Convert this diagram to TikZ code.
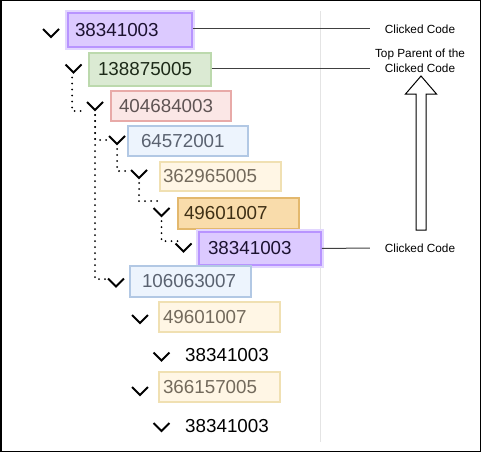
\documentclass[tikz,border=0pt]{standalone}
\usepackage{fontspec}
\setmainfont{Liberation Sans}
\usetikzlibrary{calc}
\definecolor{pfill}{HTML}{DCCAFF}
\definecolor{pdraw}{HTML}{B894FF}
\definecolor{pglow}{HTML}{E2D6FF}
\definecolor{ptext}{HTML}{1C1230}
\definecolor{gfill}{HTML}{DBEAD3}
\definecolor{gdraw}{HTML}{BCD9AD}
\definecolor{gtext}{HTML}{1D2A18}
\definecolor{rfill}{HTML}{FBE7E6}
\definecolor{rdraw}{HTML}{E8AAA8}
\definecolor{rtext}{HTML}{5F5454}
\definecolor{bfill}{HTML}{EDF4FD}
\definecolor{bdraw}{HTML}{B2C8E4}
\definecolor{btext}{HTML}{5A6270}
\definecolor{yfill}{HTML}{FFF6E5}
\definecolor{ydraw}{HTML}{F0E0B2}
\definecolor{ytext}{HTML}{736A5C}
\definecolor{ofill}{HTML}{F9DCAB}
\definecolor{odraw}{HTML}{E3B86D}
\definecolor{otext}{HTML}{3E2F15}
\definecolor{sepline}{HTML}{E4E4E4}
\newcommand\lbx[3]{\hbox to #1pt{\hskip #2pt\relax #3\hfil}}
\begin{document}
\begin{tikzpicture}[x=1pt,y=-1pt,
  box/.style={inner sep=0pt, line width=1.2pt, font=\fontsize{18.8}{20}\selectfont},
  pbox/.style={box, fill=pfill, draw=pdraw, text=ptext, line width=1.5pt, preaction={draw=pglow, line width=5.5pt}},
  gbox/.style={box, fill=gfill, draw=gdraw, text=gtext},
  rbox/.style={box, fill=rfill, draw=rdraw, text=rtext},
  bbox/.style={box, fill=bfill, draw=bdraw, text=btext},
  ybox/.style={box, fill=yfill, draw=ydraw, text=ytext},
  obox/.style={box, fill=ofill, draw=odraw, text=otext},
  plain/.style={inner sep=0pt, anchor=west, font=\fontsize{18.8}{20}\selectfont},
  lab/.style={inner sep=0pt, minimum width=100pt, align=center, font=\fontsize{11.8}{15}\selectfont},
  dots/.style={line width=2pt, line cap=round, dash pattern=on 0pt off 6pt},
  link/.style={line width=1pt, draw=black!75},
  chev/.pic={\draw[line width=2pt, line join=miter] (-8,-4) -- (0,4) -- (8,-4); \coordinate (-v) at (0,4);}
]
\useasboundingbox (0,0) rectangle (481,452);
\draw[line width=1.5pt] (0.75,0.75) rectangle (480.25,451.25);
\draw[sepline, line width=1pt] (320,11) -- (320,442);

% boxes
\node[pbox, minimum height=34pt] (n1) at (130,30) {\lbx{124}{7}{38341003}};
\node[gbox, minimum height=33pt] (n2) at (150,69.5) {\lbx{122}{9}{138875005}};
\node[rbox, minimum height=30pt] (n3) at (171,106) {\lbx{120}{8}{404684003}};
\node[bbox, minimum height=30pt] (n4) at (188,141) {\lbx{120}{13}{64572001}};
\node[ybox, minimum height=29pt] (n5) at (220.5,176.5) {\lbx{121}{3}{362965005}};
\node[obox, minimum height=31pt] (n6) at (238.5,213.5) {\lbx{121}{6}{49601007}};
\node[pbox, minimum height=33pt] (n7) at (260,248.5) {\lbx{122}{9}{38341003}};
\node[bbox, minimum height=31pt] (n8) at (190.5,281.5) {\lbx{121}{12}{106063007}};
\node[ybox, minimum height=30pt] (n9) at (219.5,317) {\lbx{121}{4}{49601007}};
\node[plain] (n10) at (185,355) {38341003};
\node[ybox, minimum height=30pt] (n11) at (219.5,387) {\lbx{121}{4}{366157005}};
\node[plain] (n12) at (185,426) {38341003};

% chevrons
\pic (k1) at (51,33) {chev};
\pic (k2) at (73.5,68.5) {chev};
\pic (k3) at (95,106) {chev};
\pic (k4) at (117,140) {chev};
\pic (k5) at (139,174) {chev};
\pic (k6) at (161.5,212) {chev};
\pic (k7) at (183.5,247.5) {chev};
\pic (k8) at (116,282.5) {chev};
\pic (k9) at (140,319) {chev};
\pic (k10) at (161.5,356.5) {chev};
\pic (k11) at (140,391) {chev};
\pic (k12) at (161.5,427) {chev};

% dotted tree connectors
\coordinate (e3) at (86,111);
\coordinate (e4) at (108,140);
\coordinate (e8) at (107,279);
\coordinate (e5) at (129,171);
\coordinate (e6) at (158,201);
\coordinate (e7) at (182,241);
\draw[dots] ($(k2-v)+(-1.5,5)$) |- (e3);
\draw[dots] ($(k3-v)+(0,5)$) |- (e4);
\draw[dots] ($(k3-v)+(0,5)$) |- (e8);
\draw[dots] ($(k4-v)+(0,5)$) |- (e5);
\draw[dots] ($(k5-v)+(0,5)$) |- (e6);
\draw[dots] ($(k6-v)+(0,5)$) |- (e7);

% right labels
\node[lab] (l1) at (420,29) {Clicked Code};
\node[lab] (l2) at (420,61) {Top Parent of the\\Clicked Code};
\node[lab] (l3) at (420,248) {Clicked Code};
\draw[link] (n1.east |- l1) -- (l1.west);
\draw[link] (n2.east |- 0,68) -- (l2.west |- 0,68);
\draw[link] (n7.east) -- (l3.west);

% block arrow
\draw[line width=1pt, fill=white] (416,230) -- (416,94) -- (405.5,94) -- (421,76) -- (436.5,94) -- (426,94) -- (426,230) -- cycle;
\end{tikzpicture}
\end{document}
